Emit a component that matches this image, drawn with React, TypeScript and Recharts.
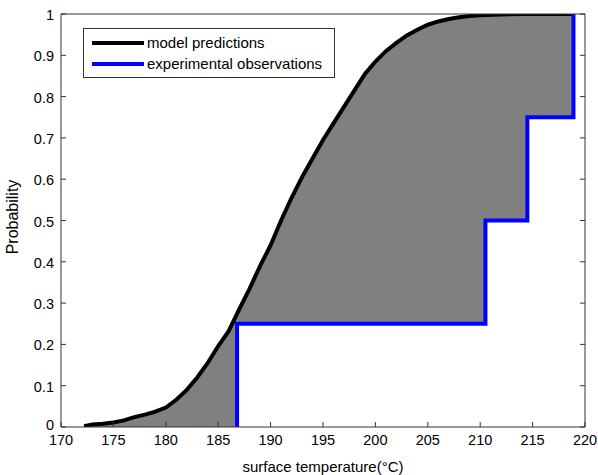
import { Area, ComposedChart, Line, XAxis, YAxis } from "recharts";

// model predictions (cumulative probability vs surface temperature)
const modelTemp = [
  172.2, 173, 174, 175, 176, 177, 178, 179, 180, 181, 182, 183, 184, 185, 186, 187, 188, 189, 190, 191,
  192, 193, 194, 195, 196, 197, 198, 199, 200, 201, 202, 203, 204, 205, 206, 207, 208, 209, 210, 212,
  214, 218.9,
];
const modelProb = [
  0.002, 0.006, 0.008, 0.011, 0.016, 0.024, 0.03, 0.037, 0.047, 0.066, 0.09, 0.12, 0.155, 0.196, 0.232,
  0.285, 0.335, 0.39, 0.44, 0.5, 0.555, 0.605, 0.65, 0.695, 0.735, 0.775, 0.815, 0.855, 0.885, 0.91, 0.93,
  0.948, 0.962, 0.974, 0.982, 0.988, 0.992, 0.995, 0.997, 0.999, 1, 1,
];

// experimental observations (empirical CDF)
const obsTemp = [186.8, 210.5, 214.5, 218.9];
const obsProb = [0.25, 0.5, 0.75, 1];

const xTicks = [170, 175, 180, 185, 190, 195, 200, 205, 210, 215, 220];
const yTicks = [0, 0.1, 0.2, 0.3, 0.4, 0.5, 0.6, 0.7, 0.8, 0.9, 1];

const modelData = modelTemp.map((t, i) => ({ t, p: modelProb[i] }));
const obsData: { t: number; p: number }[] = [];
obsTemp.forEach((t, i) => {
  obsData.push({ t, p: i === 0 ? 0 : obsProb[i - 1] });
  obsData.push({ t, p: obsProb[i] });
});

const legendItems = [
  { name: "model predictions", color: "#000" },
  { name: "experimental observations", color: "#0000ff" },
];

const FONT = "'Liberation Sans', Arial, sans-serif";
const AXIS = "#333";

const BottomTick = ({ x, y, payload }: any) => (
  <g>
    <line x1={x} x2={x} y1={y} y2={y - 5} stroke={AXIS} />
    <text x={x} y={y + 18} textAnchor="middle" fontSize={14.5} fontFamily={FONT} fill="#000">
      {payload.value}
    </text>
  </g>
);
const TopTick = ({ x, y }: any) => <line x1={x} x2={x} y1={y} y2={y + 5} stroke={AXIS} />;
const LeftTick = ({ x, y, payload }: any) => (
  <g>
    <line x1={x} x2={x + 5} y1={y} y2={y} stroke={AXIS} />
    <text
      x={x - 7}
      y={payload.value === 0 ? y + 3 : y + 6}
      textAnchor="end"
      fontSize={14.5}
      fontFamily={FONT}
      fill="#000"
    >
      {payload.value}
    </text>
  </g>
);
const RightTick = ({ x, y }: any) => <line x1={x} x2={x - 5} y1={y} y2={y} stroke={AXIS} />;

export default function App() {
  return (
    <div style={{ position: "absolute", left: 0, top: 0, width: 598, height: 475, background: "#fff" }}>
      {/* crisp fill edges so the white step area hides the gray one cleanly */}
      <style>{`.recharts-area-area { shape-rendering: crispEdges; }`}</style>
      <ComposedChart width={598} height={475} margin={{ top: 0, right: 0, bottom: 0, left: 0 }}>
        <XAxis
          dataKey="t"
          type="number"
          domain={[170, 220]}
          ticks={xTicks}
          allowDataOverflow
          height={48}
          tickSize={0}
          tickMargin={0}
          tick={<BottomTick />}
          axisLine={{ stroke: AXIS }}
          interval={0}
        />
        <XAxis
          xAxisId="top"
          orientation="top"
          type="number"
          domain={[170, 220]}
          ticks={xTicks}
          allowDataOverflow
          height={14}
          tickSize={0}
          tickMargin={0}
          tick={<TopTick />}
          axisLine={{ stroke: AXIS }}
          interval={0}
        />
        <YAxis
          type="number"
          domain={[0, 1]}
          ticks={yTicks}
          allowDataOverflow
          width={61}
          tickSize={0}
          tickMargin={0}
          tick={<LeftTick />}
          axisLine={{ stroke: AXIS }}
          interval={0}
        />
        <YAxis
          yAxisId="right"
          orientation="right"
          type="number"
          domain={[0, 1]}
          ticks={yTicks}
          allowDataOverflow
          width={13}
          tickSize={0}
          tickMargin={0}
          tick={<RightTick />}
          axisLine={{ stroke: AXIS }}
          interval={0}
        />
        <Area
          data={modelData}
          dataKey="p"
          type="linear"
          stroke="none"
          fill="#808080"
          fillOpacity={1}
          isAnimationActive={false}
        />
        <Area
          data={obsData}
          dataKey="p"
          type="linear"
          stroke="none"
          fill="#ffffff"
          fillOpacity={1}
          isAnimationActive={false}
        />
        <Line
          data={modelData}
          dataKey="p"
          type="linear"
          stroke="#000"
          strokeWidth={4}
          dot={false}
          isAnimationActive={false}
        />
        <Line
          data={obsData}
          dataKey="p"
          type="linear"
          stroke="#0000ff"
          strokeWidth={4}
          dot={false}
          isAnimationActive={false}
        />
      </ComposedChart>
      <div
        style={{
          position: "absolute",
          left: 83,
          top: 28,
          width: 252,
          height: 50,
          border: `1px solid ${AXIS}`,
          background: "#fff",
          boxSizing: "border-box",
          padding: "3px 0 0 8px",
          fontFamily: FONT,
          fontSize: 15,
        }}
      >
        {legendItems.map((e) => (
          <div key={e.name} style={{ display: "flex", alignItems: "center", height: 21 }}>
            <svg width={52} height={6}>
              <line x1={0} x2={52} y1={3} y2={3} stroke={e.color} strokeWidth={4} />
            </svg>
            <span style={{ marginLeft: 3 }}>{e.name}</span>
          </div>
        ))}
      </div>
      <div
        style={{
          position: "absolute",
          left: 323,
          top: 466,
          transform: "translate(-50%, -50%)",
          whiteSpace: "nowrap",
          fontFamily: FONT,
          fontSize: 15,
        }}
      >
        surface temperature(°C)
      </div>
      <div
        style={{
          position: "absolute",
          left: 13,
          top: 217,
          transform: "translate(-50%, -50%) rotate(-90deg)",
          whiteSpace: "nowrap",
          fontFamily: FONT,
          fontSize: 16,
        }}
      >
        Probability
      </div>
    </div>
  );
}
